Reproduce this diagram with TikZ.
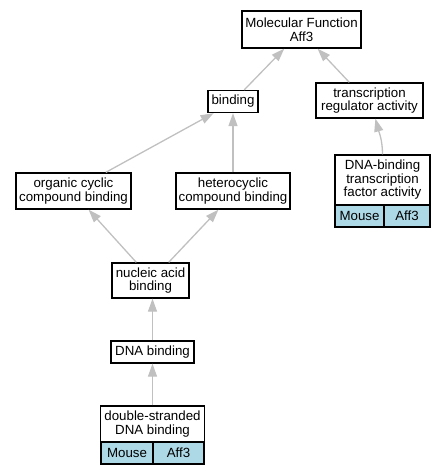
\documentclass[tikz,border=0pt]{standalone}
\usepackage{fontspec}
\setmainfont{Liberation Sans}
\usetikzlibrary{arrows.meta}
\definecolor{mygray}{HTML}{C0C0C0}
\definecolor{myblue}{HTML}{ADD8E6}

\begin{document}
\begin{tikzpicture}[x=1pt,y=-1pt,
  termStyle/.style={draw, line width=1.3pt, fill=white, align=center, inner sep=0pt,
    font=\fontsize{13.3}{13.5}\selectfont},
  cellStyle/.style={termStyle, fill=myblue, minimum height=22pt},
  edgeStyle/.style={draw=mygray, line width=1.3pt, -{Triangle[length=13pt,width=9pt,fill=mygray]}}]
\useasboundingbox (0,0) rectangle (445,475);
\node[termStyle, minimum width=119pt, minimum height=37pt] (mf) at (301.5,29.5) {Molecular Function\\Aff3};
\node[termStyle, minimum width=50pt, minimum height=22pt] (binding) at (233,101.5) {binding};
\node[termStyle, minimum width=107pt, minimum height=35pt] (tra) at (369.5,100.5) {transcription\\regulator activity};
\node[termStyle, minimum width=115pt, minimum height=36pt] (org) at (73.5,191) {organic cyclic\\compound binding};
\node[termStyle, minimum width=114pt, minimum height=36pt] (het) at (233,191) {heterocyclic\\compound binding};
\node[termStyle, minimum width=95pt, minimum height=50pt] (tf) at (382.5,180) {DNA-binding\\transcription\\factor activity};
\node[cellStyle, minimum width=49pt] (tfMouse) at (359.5,216) {Mouse};
\node[cellStyle, minimum width=46pt] (tfAff3) at (407,216) {Aff3};
\node[termStyle, minimum width=77pt, minimum height=35pt] (nuc) at (150.5,280.5) {nucleic acid\\binding};
\node[termStyle, minimum width=83pt, minimum height=22pt] (dnab) at (152.5,352) {DNA binding};
\node[termStyle, minimum width=104pt, minimum height=36pt] (dsdna) at (152.5,424) {double-stranded\\DNA binding};
\node[cellStyle, minimum width=52pt] (dsdnaMouse) at (127,453) {Mouse};
\node[cellStyle, minimum width=51pt] (dsdnaAff3) at (178.5,453) {Aff3};

\draw[edgeStyle] (binding.46) -- (mf.228);
\draw[edgeStyle] (tra.138) -- (mf.310);
\draw[edgeStyle] (org.30) -- (binding.211);
\draw[edgeStyle] (het.north) -- (binding.south);
\draw[edgeStyle] (tf.north) to[out=90,in=-75] (tra.288);
\draw[edgeStyle] (nuc.128) -- (org.309);
\draw[edgeStyle] (nuc.45) -- (het.232);
\draw[edgeStyle] (dnab.north) -- (dnab.north |- nuc.south);
\draw[edgeStyle] (dsdna.north) -- (dnab.south);
\end{tikzpicture}
\end{document}
